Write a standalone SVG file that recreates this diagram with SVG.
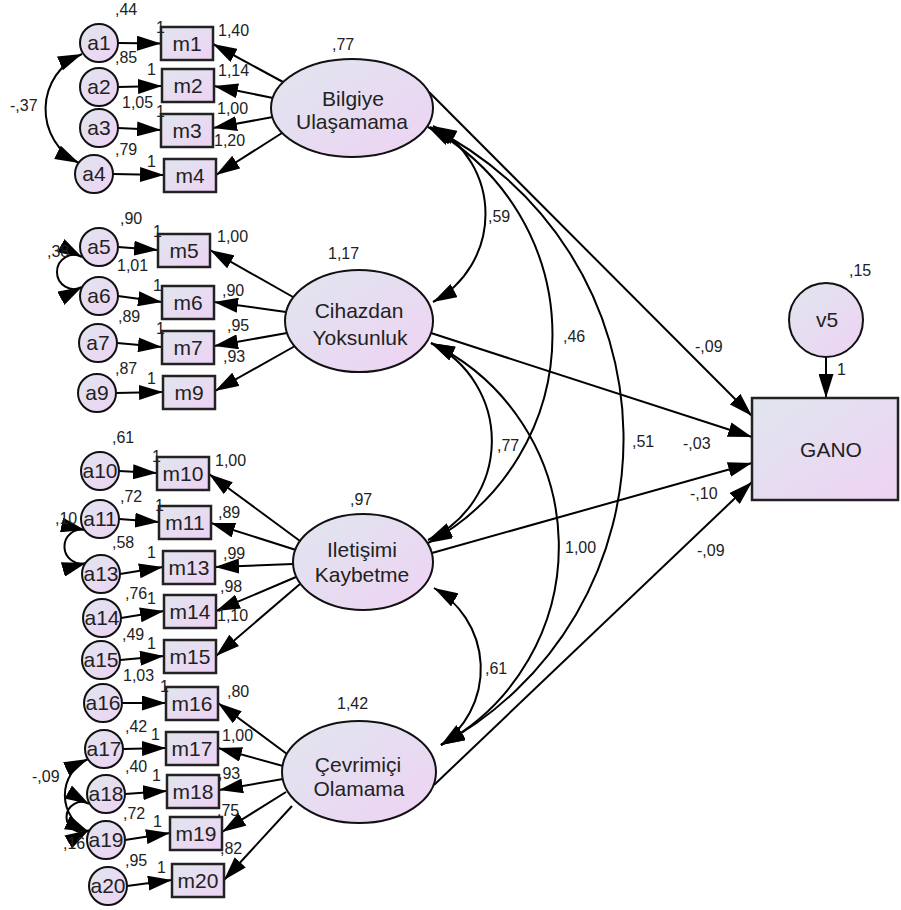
<svg xmlns="http://www.w3.org/2000/svg" width="901" height="910" viewBox="0 0 901 910">
<style>
.n{fill:url(#g);stroke:#111;stroke-width:2}
.r{fill:url(#g);stroke:#222;stroke-width:2.5}
.c{fill:none;stroke:#000;stroke-width:2;marker-end:url(#ah)}
.cv{fill:none;stroke:#000;stroke-width:2;marker-start:url(#ah);marker-end:url(#ah)}
.t{font-family:"Liberation Sans",Arial,sans-serif;font-size:21px;fill:#222;text-anchor:middle}
.k{font-family:"Liberation Sans",Arial,sans-serif;font-size:16px;fill:#222}
</style>
<defs>
<linearGradient id="g" x1="0" y1="0" x2="1" y2="1">
<stop offset="0" stop-color="#e0e6ee"/>
<stop offset="1" stop-color="#eed2f4"/>
</linearGradient>
<marker id="ah" markerUnits="userSpaceOnUse" markerWidth="24" markerHeight="15" refX="24" refY="7.5" orient="auto-start-reverse" viewBox="0 0 24 15">
<path d="M0,0 L24,7.5 L0,15 z" fill="#000"/>
</marker>
</defs>
<rect width="901" height="910" fill="#fff"/>
<g id="connectors">
<line class="c" x1="118" y1="43" x2="161" y2="43.5"/>
<line class="c" x1="118" y1="87" x2="162" y2="86"/>
<line class="c" x1="118" y1="128" x2="161" y2="130"/>
<line class="c" x1="113" y1="174" x2="164" y2="175"/>
<line class="c" x1="118" y1="247" x2="158" y2="250"/>
<line class="c" x1="118" y1="296" x2="162" y2="302"/>
<line class="c" x1="117" y1="343" x2="162" y2="347"/>
<line class="c" x1="116" y1="393" x2="163" y2="392"/>
<line class="c" x1="119" y1="471" x2="157" y2="473"/>
<line class="c" x1="119" y1="519" x2="159" y2="522"/>
<line class="c" x1="120" y1="574" x2="163" y2="567"/>
<line class="c" x1="121" y1="618" x2="164" y2="611"/>
<line class="c" x1="120" y1="660" x2="164" y2="656"/>
<line class="c" x1="122" y1="703" x2="166" y2="703"/>
<line class="c" x1="123" y1="749" x2="166" y2="748"/>
<line class="c" x1="125" y1="794" x2="167" y2="791"/>
<line class="c" x1="125" y1="840" x2="170" y2="833"/>
<line class="c" x1="127" y1="886" x2="172" y2="880"/>
<line class="c" x1="283" y1="82" x2="213" y2="44"/>
<line class="c" x1="273" y1="98" x2="214" y2="86"/>
<line class="c" x1="273" y1="117" x2="213" y2="128"/>
<line class="c" x1="282" y1="133" x2="216" y2="175"/>
<line class="c" x1="293" y1="297" x2="210" y2="250"/>
<line class="c" x1="286" y1="312" x2="214" y2="302"/>
<line class="c" x1="287" y1="333" x2="214" y2="346"/>
<line class="c" x1="295" y1="346" x2="215" y2="391"/>
<line class="c" x1="300" y1="541" x2="209" y2="474"/>
<line class="c" x1="296" y1="550" x2="211" y2="523"/>
<line class="c" x1="293" y1="564" x2="215" y2="567"/>
<line class="c" x1="296" y1="577" x2="216" y2="611"/>
<line class="c" x1="300" y1="584" x2="216" y2="656"/>
<line class="c" x1="287" y1="754" x2="218" y2="703"/>
<line class="c" x1="283" y1="766" x2="218" y2="748"/>
<line class="c" x1="283" y1="779" x2="219" y2="790"/>
<line class="c" x1="286" y1="792" x2="222" y2="832"/>
<line class="c" x1="292" y1="806" x2="224" y2="880"/>
<line class="c" x1="429" y1="92" x2="752" y2="416"/>
<line class="c" x1="431" y1="333" x2="752" y2="437"/>
<line class="c" x1="432" y1="553" x2="752" y2="463"/>
<line class="c" x1="434" y1="785" x2="752" y2="482"/>
<line class="c" x1="826" y1="357" x2="826" y2="398"/>
<path class="cv" d="M433,126 A100,100 0 0 1 433,302"/>
<path class="cv" d="M428,127 A236,236 0 0 1 428,543"/>
<path class="cv" d="M430,127 A348,348 0 0 1 441,745"/>
<path class="cv" d="M431,343 A109,109 0 0 1 428,540"/>
<path class="cv" d="M431,343 A226,226 0 0 1 441,745"/>
<path class="cv" d="M434,588 A93,93 0 0 1 441,745"/>
<path class="cv" d="M82,54 A60,60 0 0 0 79,163"/>
<path class="cv" d="M82,257 A17,17 0 1 0 82,287"/>
<path class="cv" d="M85,530 A17,17 0 1 0 86,563"/>
<path class="cv" d="M88,759 A40,40 0 0 0 89,832"/>
<path class="cv" d="M89,804 A15,15 0 1 0 89,830"/>
</g>
<g id="F1"><ellipse class="n" cx="352" cy="108" rx="81" ry="49"/><text class="t" x="353" y="106">Bilgiye</text><text class="t" x="352" y="129">Ulaşamama</text><text class="k" x="332" y="50">,77</text></g>
<g id="F2"><ellipse class="n" cx="359" cy="321" rx="74" ry="51"/><text class="t" x="359" y="318">Cihazdan</text><text class="t" x="360" y="345">Yoksunluk</text><text class="k" x="328" y="259">1,17</text></g>
<g id="F3"><ellipse class="n" cx="363" cy="562" rx="70" ry="48"/><text class="t" x="362" y="557">Iletişimi</text><text class="t" x="362" y="582">Kaybetme</text><text class="k" x="350" y="505">,97</text></g>
<g id="F4"><ellipse class="n" cx="359" cy="772" rx="77" ry="51"/><text class="t" x="358" y="772">Çevrimiçi</text><text class="t" x="359" y="796">Olamama</text><text class="k" x="337" y="709">1,42</text></g>
<g id="GANO"><rect class="r" x="752" y="398" width="146" height="102"/><text class="t" x="831" y="457">GANO</text></g>
<g id="v5"><circle class="n" cx="826" cy="320" r="37"/><text class="t" x="827" y="327">v5</text><text class="k" x="849" y="276">,15</text></g>
<g id="m1"><rect class="r" x="161" y="27" width="52" height="33"/><text class="t" x="187" y="51">m1</text></g>
<g id="m2"><rect class="r" x="162" y="69" width="52" height="33"/><text class="t" x="188" y="93">m2</text></g>
<g id="m3"><rect class="r" x="161" y="114" width="52" height="33"/><text class="t" x="187" y="138">m3</text></g>
<g id="m4"><rect class="r" x="164" y="159" width="52" height="33"/><text class="t" x="190" y="183">m4</text></g>
<g id="m5"><rect class="r" x="158" y="234" width="52" height="33"/><text class="t" x="184" y="258">m5</text></g>
<g id="m6"><rect class="r" x="162" y="286" width="52" height="33"/><text class="t" x="188" y="310">m6</text></g>
<g id="m7"><rect class="r" x="162" y="331" width="52" height="33"/><text class="t" x="188" y="355">m7</text></g>
<g id="m9"><rect class="r" x="163" y="376" width="52" height="33"/><text class="t" x="189" y="400">m9</text></g>
<g id="m10"><rect class="r" x="157" y="457" width="52" height="33"/><text class="t" x="183" y="481">m10</text></g>
<g id="m11"><rect class="r" x="159" y="506" width="52" height="33"/><text class="t" x="185" y="530">m11</text></g>
<g id="m13"><rect class="r" x="163" y="551" width="52" height="33"/><text class="t" x="189" y="575">m13</text></g>
<g id="m14"><rect class="r" x="164" y="595" width="52" height="33"/><text class="t" x="190" y="619">m14</text></g>
<g id="m15"><rect class="r" x="164" y="640" width="52" height="33"/><text class="t" x="190" y="664">m15</text></g>
<g id="m16"><rect class="r" x="166" y="687" width="52" height="33"/><text class="t" x="192" y="711">m16</text></g>
<g id="m17"><rect class="r" x="166" y="732" width="52" height="33"/><text class="t" x="192" y="756">m17</text></g>
<g id="m18"><rect class="r" x="167" y="775" width="52" height="33"/><text class="t" x="193" y="799">m18</text></g>
<g id="m19"><rect class="r" x="170" y="817" width="52" height="33"/><text class="t" x="196" y="841">m19</text></g>
<g id="m20"><rect class="r" x="172" y="864" width="52" height="33"/><text class="t" x="198" y="888">m20</text></g>
<g id="a1"><circle class="n" cx="99" cy="43" r="19"/><text class="t" x="99" y="50">a1</text><text class="k" x="115" y="15">,44</text></g>
<g id="a2"><circle class="n" cx="99" cy="87" r="19"/><text class="t" x="99" y="94">a2</text><text class="k" x="115" y="63">,85</text></g>
<g id="a3"><circle class="n" cx="99" cy="128" r="19"/><text class="t" x="99" y="135">a3</text><text class="k" x="122" y="108">1,05</text></g>
<g id="a4"><circle class="n" cx="94" cy="174" r="19"/><text class="t" x="94" y="181">a4</text><text class="k" x="115" y="155">,79</text></g>
<g id="a5"><circle class="n" cx="99" cy="247" r="19"/><text class="t" x="99" y="254">a5</text><text class="k" x="120" y="224">,90</text></g>
<g id="a6"><circle class="n" cx="99" cy="296" r="19"/><text class="t" x="99" y="303">a6</text><text class="k" x="117" y="271">1,01</text></g>
<g id="a7"><circle class="n" cx="98" cy="343" r="19"/><text class="t" x="98" y="350">a7</text><text class="k" x="118" y="322">,89</text></g>
<g id="a9"><circle class="n" cx="97" cy="393" r="19"/><text class="t" x="97" y="400">a9</text><text class="k" x="115" y="374">,87</text></g>
<g id="a10"><circle class="n" cx="100" cy="471" r="19"/><text class="t" x="100" y="478">a10</text><text class="k" x="112" y="443">,61</text></g>
<g id="a11"><circle class="n" cx="100" cy="519" r="19"/><text class="t" x="100" y="526">a11</text><text class="k" x="120" y="502">,72</text></g>
<g id="a13"><circle class="n" cx="101" cy="574" r="19"/><text class="t" x="101" y="581">a13</text><text class="k" x="112" y="548">,58</text></g>
<g id="a14"><circle class="n" cx="102" cy="618" r="19"/><text class="t" x="102" y="625">a14</text><text class="k" x="125" y="599">,76</text></g>
<g id="a15"><circle class="n" cx="101" cy="660" r="19"/><text class="t" x="101" y="667">a15</text><text class="k" x="122" y="640">,49</text></g>
<g id="a16"><circle class="n" cx="103" cy="703" r="19"/><text class="t" x="103" y="710">a16</text><text class="k" x="123" y="681">1,03</text></g>
<g id="a17"><circle class="n" cx="104" cy="749" r="19"/><text class="t" x="104" y="756">a17</text><text class="k" x="125" y="732">,42</text></g>
<g id="a18"><circle class="n" cx="106" cy="794" r="19"/><text class="t" x="106" y="801">a18</text><text class="k" x="125" y="772">,40</text></g>
<g id="a19"><circle class="n" cx="106" cy="840" r="19"/><text class="t" x="106" y="847">a19</text><text class="k" x="123" y="819">,72</text></g>
<g id="a20"><circle class="n" cx="108" cy="886" r="19"/><text class="t" x="108" y="893">a20</text><text class="k" x="125" y="866">,95</text></g>
<g id="labels">
<text class="k" x="156" y="33">1</text><text class="k" x="218" y="36">1,40</text>
<text class="k" x="147" y="75">1</text><text class="k" x="218" y="76">1,14</text>
<text class="k" x="156" y="117">1</text><text class="k" x="217" y="114">1,00</text>
<text class="k" x="147" y="167">1</text><text class="k" x="214" y="146">1,20</text>
<text class="k" x="10" y="111">-,37</text>
<text class="k" x="153" y="237">1</text><text class="k" x="217" y="242">1,00</text>
<text class="k" x="47" y="257">,38</text>
<text class="k" x="153" y="291">1</text><text class="k" x="222" y="296">,90</text>
<text class="k" x="156" y="334">1</text><text class="k" x="227" y="331">,95</text>
<text class="k" x="147" y="384">1</text><text class="k" x="223" y="362">,93</text>
<text class="k" x="152" y="462">1</text><text class="k" x="215" y="466">1,00</text>
<text class="k" x="155" y="511">1</text><text class="k" x="218" y="518">,89</text>
<text class="k" x="55" y="524">,10</text>
<text class="k" x="147" y="558">1</text><text class="k" x="223" y="559">,99</text>
<text class="k" x="147" y="604">1</text><text class="k" x="220" y="592">,98</text>
<text class="k" x="217" y="621">1,10</text>
<text class="k" x="147" y="649">1</text>
<text class="k" x="160" y="692">1</text><text class="k" x="227" y="697">,80</text>
<text class="k" x="151" y="740">1</text><text class="k" x="222" y="741">1,00</text>
<text class="k" x="32" y="782">-,09</text>
<text class="k" x="152" y="781">1</text><text class="k" x="218" y="779">,93</text>
<text class="k" x="153" y="827">1</text><text class="k" x="217" y="816">,75</text>
<text class="k" x="63" y="849">,16</text>
<text class="k" x="157" y="873">1</text><text class="k" x="220" y="854">,82</text>
<text class="k" x="488" y="222">,59</text>
<text class="k" x="563" y="342">,46</text>
<text class="k" x="497" y="451">,77</text>
<text class="k" x="632" y="447">,51</text>
<text class="k" x="565" y="553">1,00</text>
<text class="k" x="485" y="674">,61</text>
<text class="k" x="695" y="352">-,09</text>
<text class="k" x="683" y="449">-,03</text>
<text class="k" x="690" y="499">-,10</text>
<text class="k" x="697" y="556">-,09</text>
<text class="k" x="837" y="375">1</text>
</g>
</svg>
